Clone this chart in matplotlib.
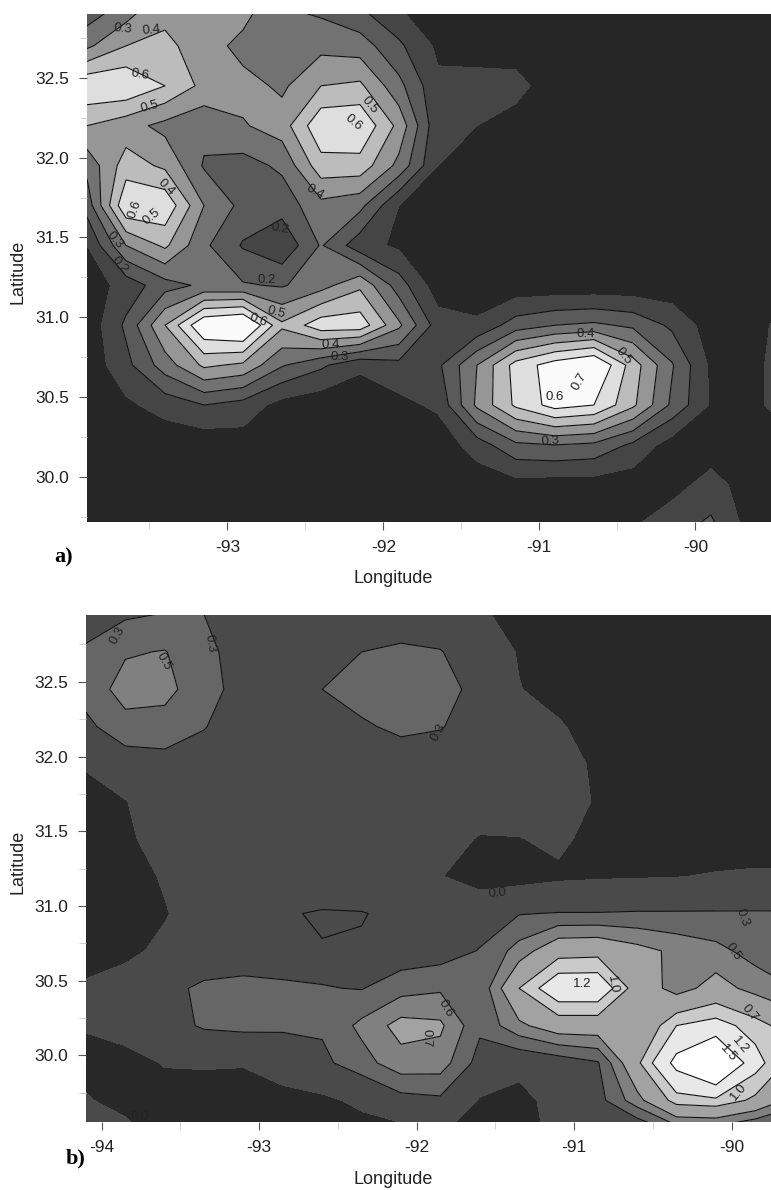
#!/usr/bin/env python3
import numpy as np
import matplotlib
matplotlib.use("Agg")
import matplotlib.pyplot as plt
from matplotlib.ticker import MultipleLocator

plt.rcParams['font.family'] = ['Liberation Sans', 'DejaVu Sans']

W, H = 771, 1190

# panel a, rows run north to south, 0.25 degree spacing
lon_a = [-93.9, -93.65, -93.4, -93.15, -92.9, -92.65, -92.4, -92.15, -91.9, -91.65,
         -91.4, -91.15, -90.9, -90.65, -90.4, -90.15, -89.9, -89.65, -89.4]
lat_a = [32.95, 32.7, 32.45, 32.2, 31.95, 31.7, 31.45, 31.2, 30.95, 30.7, 30.45, 30.2, 29.95, 29.7]
z_a = [
    [.22, .33, .47, .50, .46, .30, .27, .20, .10, .05, .04, .03, .03, .03, .03, .03, .03, .03, .03],
    [.38, .50, .52, .46, .36, .33, .37, .35, .22, .08, .04, .04, .03, .03, .03, .03, .03, .03, .03],
    [.69, .69, .60, .47, .44, .38, .50, .52, .33, .12, .15, .14, .03, .03, .03, .03, .03, .03, .03],
    [.50, .44, .37, .33, .39, .45, .68, .69, .47, .12, .10, .05, .03, .03, .03, .03, .03, .03, .03],
    [.33, .55, .48, .29, .26, .32, .56, .56, .37, .10, .04, .03, .03, .03, .03, .03, .03, .03, .03],
    [.24, .69, .68, .40, .27, .24, .37, .33, .10, .06, .03, .03, .03, .03, .03, .03, .03, .03, .03],
    [.10, .40, .52, .32, .19, .12, .31, .14, .08, .04, .03, .03, .03, .03, .03, .03, .03, .03, .03],
    [.04, .14, .26, .32, .31, .29, .36, .48, .25, .04, .03, .03, .03, .03, .03, .03, .03, .03, .03],
    [.03, .22, .50, .80, .85, .52, .66, .66, .42, .15, .12, .25, .30, .32, .28, .18, .05, .05, .15],
    [.03, .17, .35, .52, .48, .31, .22, .12, .17, .18, .40, .64, .75, .82, .55, .31, .08, .04, .20],
    [.03, .08, .14, .20, .16, .06, .03, .03, .07, .12, .42, .62, .74, .70, .52, .28, .09, .04, .20],
    [.03, .03, .03, .03, .05, .03, .03, .03, .03, .03, .15, .28, .30, .28, .18, .05, .04, .04, .04],
    [.03, .03, .03, .03, .03, .03, .03, .03, .03, .03, .03, .06, .05, .05, .04, .06, .14, .05, .03],
    [.03, .03, .03, .03, .03, .03, .03, .03, .03, .03, .03, .03, .03, .03, .09, .16, .22, .06, .03],
]

# panel b
lon_b = [-94.1, -93.85, -93.6, -93.35, -93.1, -92.85, -92.6, -92.35, -92.1, -91.85,
         -91.6, -91.35, -91.1, -90.85, -90.6, -90.35, -90.1, -89.85, -89.6]
lat_b = [32.95, 32.7, 32.45, 32.2, 31.95, 31.7, 31.45, 31.2, 30.95, 30.7, 30.45, 30.2, 29.95, 29.7, 29.45]
z_b = [
    [.20, .27, .31, .30, .18, .17, .17, .17, .17, .17, .05, -.12, -.15, -.15, -.15, -.15, -.15, -.15, -.15],
    [.33, .48, .51, .36, .20, .20, .22, .30, .34, .31, .18, -.02, -.15, -.15, -.15, -.15, -.15, -.15, -.15],
    [.38, .58, .56, .38, .22, .24, .30, .36, .38, .36, .25, .01, -.10, -.15, -.15, -.15, -.15, -.15, -.15],
    [.25, .43, .42, .31, .18, .18, .22, .28, .33, .31, .22, .12, .03, -.12, -.15, -.15, -.15, -.15, -.15],
    [.03, .18, .22, .20, .17, .17, .17, .20, .22, .20, .18, .16, .12, -.05, -.15, -.15, -.15, -.15, -.15],
    [-.12, -.01, .15, .16, .16, .16, .16, .16, .16, .16, .16, .16, .14, -.03, -.15, -.15, -.15, -.15, -.15],
    [-.15, -.05, .12, .16, .16, .16, .16, .16, .16, .12, -.02, -.01, .06, -.10, -.15, -.15, -.15, -.15, -.15],
    [-.15, -.12, .03, .14, .17, .15, .05, .05, .17, .01, -.12, -.10, -.05, -.03, -.02, -.01, .02, .04, .03],
    [-.15, -.12, -.02, .15, .18, .20, .24, .23, .17, .17, .20, .29, .31, .31, .32, .32, .32, .32, .32],
    [-.15, -.06, .06, .15, .18, .20, .21, .20, .17, .20, .31, .58, .90, .92, .78, .65, .56, .42, .35],
    [.05, .12, .24, .34, .36, .33, .31, .29, .42, .47, .34, 1.00, 1.40, 1.40, .88, .60, .80, .62, .50],
    [.02, .14, .20, .33, .36, .34, .33, .55, .78, .74, .34, .65, .85, .85, .72, 1.20, 1.30, 1.10, .85],
    [-.08, -.12, .02, .03, .02, .12, .25, .42, .62, .60, .22, .10, .17, .28, .95, 1.60, 2.00, 1.30, .90],
    [.02, -.08, -.14, -.14, -.14, -.08, -.05, .05, .22, .26, -.02, -.10, .12, .22, .62, 1.10, 1.15, .95, .60],
    [.15, .10, -.10, -.13, -.14, -.14, -.14, -.12, -.15, .00, -.20, -.20, .12, .16, -.05, .20, .20, .05, .05],
]
# faint closed line in the middle of panel b
weak_level_b = [.22]

# bands and their greys
levels_a = [-1, .1, .2, .3, .4, .5, .6, .7, 2]
greys_a = ['#262626', '#454545', '#5a5a5a', '#727272', '#969696', '#bcbcbc', '#dedede', '#fafafa']
lines_a = [.2, .3, .4, .5, .6, .7]

levels_b = [-1, 0, .3, .5, .7, 1.0, 1.2, 1.5, 3]
greys_b = ['#282828', '#4a4a4a', '#666666', '#808080', '#a2a2a2', '#cacaca', '#e8e8e8', '#ffffff']
lines_b = [.3, .5, .7, 1.0, 1.2, 1.5]

# contour labels: text, x px, y px, rotation
labels_a = [('0.3', 123, 29, -5), ('0.4', 151, 30, 5), ('0.6', 140, 75, -10), ('0.5', 150, 107, 15),
            ('0.5', 370, 105, -50), ('0.6', 353, 123, -40), ('0.4', 315, 192, -30), ('0.4', 166, 187, -45),
            ('0.6', 135, 209, 70), ('0.5', 152, 217, 40), ('0.3', 115, 240, -50), ('0.2', 120, 265, -50),
            ('0.2', 280, 229, -10), ('0.2', 267, 280, 0), ('0.5', 276, 312, -15), ('0.6', 258, 320, -20),
            ('0.4', 331, 345, 0), ('0.3', 340, 357, 0), ('0.4', 586, 334, 0), ('0.5', 624, 356, -50),
            ('0.7', 579, 382, 60), ('0.6', 555, 397, 0), ('0.3', 550, 441, 5)]
labels_b = [('0.3', 117, 636, 60), ('0.3', 210, 644, -80), ('0.5', 164, 661, -60), ('0.3', 438, 733, 60),
            ('0.0', 497, 893, 5), ('0.3', 742, 918, -70), ('0.5', 733, 952, -55), ('0.6', 446, 1008, -60),
            ('0.7', 427, 1038, -90), ('1.2', 582, 984, 0), ('1.0', 613, 985, -80), ('0.7', 750, 1013, -50),
            ('1.2', 740, 1045, -50), ('1.5', 728, 1053, -50), ('1.0', 739, 1092, 50), ('0.0', 140, 1117, 0)]


def px_axes(fig, x0, y0, x1, y1):
    return fig.add_axes([x0 / W, 1 - y1 / H, (x1 - x0) / W, (y1 - y0) / H])


def draw_panel(ax, lon, lat, z, levels, greys, lines, xlim, ylim):
    ax.contourf(lon, lat, z, levels=levels, colors=greys)
    ax.contour(lon, lat, z, levels=lines, colors='#111111', linewidths=0.8)
    ax.set_xlim(xlim)
    ax.set_ylim(ylim)
    for s in ax.spines.values():
        s.set_visible(False)
    ax.xaxis.set_major_locator(MultipleLocator(1))
    ax.xaxis.set_minor_locator(MultipleLocator(0.5))
    ax.yaxis.set_major_locator(MultipleLocator(0.5))
    ax.yaxis.set_minor_locator(MultipleLocator(0.25))
    ax.xaxis.set_major_formatter(lambda v, p: f'{v:.0f}')
    ax.yaxis.set_major_formatter(lambda v, p: f'{v:.1f}')
    ax.tick_params(which='major', length=6, width=0.8, color='#555555', labelsize=12.5,
                   labelcolor='#222222', pad=7)
    ax.tick_params(which='minor', length=5, width=0.6, color='#cccccc')


fig = plt.figure(figsize=(W / 100, H / 100), dpi=100, facecolor='white')

ax_a = px_axes(fig, 87, 14, 771, 522)
draw_panel(ax_a, lon_a, lat_a, z_a, levels_a, greys_a, lines_a, (-93.90, -89.515), (29.717, 32.90))
ax_b = px_axes(fig, 86, 615, 771, 1122)
draw_panel(ax_b, lon_b, lat_b, z_b, levels_b, greys_b, lines_b, (-94.10, -89.75), (29.555, 32.947))
ax_b.contour(lon_b[5:9], lat_b[7:10], np.array(z_b)[7:10, 5:9], levels=weak_level_b,
             colors='#111111', linewidths=0.8)

for txt, x, y, rot in labels_a + labels_b:
    fig.text(x / W, 1 - y / H, txt, fontsize=9.5, color='#222222', rotation=rot,
             ha='center', va='center', rotation_mode='anchor')

fig.text(393 / W, 1 - 578 / H, 'Longitude', fontsize=13, color='#222222', ha='center', va='center')
fig.text(393 / W, 1 - 1180 / H, 'Longitude', fontsize=13, color='#222222', ha='center', va='center')
fig.text(18 / W, 1 - 272 / H, 'Latitude', fontsize=13, color='#222222', rotation=90, ha='center', va='center')
fig.text(18 / W, 1 - 862 / H, 'Latitude', fontsize=13, color='#222222', rotation=90, ha='center', va='center')
fig.text(64 / W, 1 - 557 / H, 'a)', fontsize=16, fontweight='bold', family='Liberation Serif', ha='center', va='center')
fig.text(76 / W, 1 - 1158 / H, 'b)', fontsize=16, fontweight='bold', family='Liberation Serif', ha='center', va='center')

fig.savefig('out.png', dpi=100)
